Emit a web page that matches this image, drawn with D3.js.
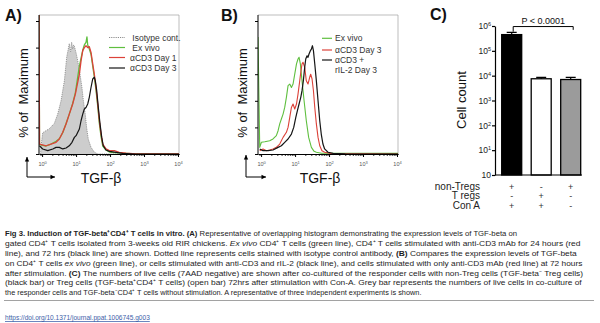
<!DOCTYPE html>
<html>
<head>
<meta charset="utf-8">
<script src="https://cdn.jsdelivr.net/npm/d3@7"></script>
<style>
body { margin: 0; background: #fff; }
svg { display: block; font-family: "Liberation Sans", Arial, Helvetica, sans-serif; }
</style>
</head>
<body>
<svg id="fig" width="600" height="323"></svg>
<script>
// ---- histogram data: [TGF-beta intensity, % of max] ----
const isotypeA = [[0.9,0],[0.93,6],[1.04,16],[1.63,19],[2.29,23],[2.88,30],[3.61,40],[4.52,55],[5.31,73],[5.8,78],[6.31,83],[6.9,77],[7.4,84],[7.94,79],[8.5,82],[8.91,81],[10,76],[11.2,70],[12.5,63],[14.7,51],[16.4,40],[18.6,30],[20.4,20],[22.9,11],[27.5,5],[34.7,1.3],[43.7,0],[10700,0]];
const exVivoA = [[0.81,106],[0.84,7],[1.31,6],[1.83,7.5],[2.57,9.5],[3.21,11.5],[4.05,16],[5.07,23],[6.31,30],[7.94,38],[9.51,46],[11.2,58],[12.5,66],[14,72],[15.7,78],[17.5,82],[19.6,84],[20.9,88],[22,82],[24.5,79],[27.5,75],[30.9,66],[34.4,58],[38.6,48],[43.4,36],[48.4,23],[54.3,13],[61,6],[75.9,3],[95.5,1.5],[134,1],[186,0.8],[295,0.5],[575,0],[10700,0]];
const day1A = [[0.81,106],[0.84,7.5],[1.31,6.2],[1.83,7.5],[2.57,8.8],[3.21,11.3],[4.05,16.3],[5.07,22.6],[6.31,30],[7.94,37.6],[9.51,45],[11.2,54],[12.5,60],[14,70],[15.7,77.7],[17.5,80],[19.6,81.4],[22,80],[24.5,80.7],[27.5,76.4],[30.9,67.7],[34.4,60],[38.6,50],[43.4,37.6],[48.4,25],[54.3,15],[61,7.5],[75.9,3.8],[95.5,2.5],[134,2.5],[186,1.3],[295,0.7],[575,0],[10700,0]];
const day3A = [[0.83,6.2],[1.04,3.8],[1.47,2.5],[2.06,3.8],[2.57,5],[3.21,5],[4.05,3.8],[5.07,4.5],[6.31,6.2],[7.59,8.8],[8.91,12.5],[10,13.8],[11.2,16.3],[12.5,18.8],[14,25],[15.7,30],[17.5,33.8],[19.6,35],[22,37.6],[24.5,42.6],[27.5,50],[30.9,56.4],[34.4,57.7],[36.9,55],[40.5,47.6],[45.2,35],[50.7,22.6],[56.9,12.5],[63.1,6.2],[75.9,3],[95.5,2],[234,0.5],[575,0],[10700,0]];

const exVivoB = [[0.81,88],[0.91,5],[1.02,8.8],[1.28,9.2],[1.79,10],[2.24,11.3],[2.81,13.8],[3.16,17.5],[3.53,22.6],[3.95,26.3],[4.43,30],[4.95,35],[5.55,42.6],[6.21,51.4],[6.97,52.6],[7.8,50],[8.71,52.6],[9.77,60],[11,67.7],[12.2,71.4],[13.1,72.7],[14.3,67.7],[16,55],[18.4,40],[21.4,25],[25.1,12.5],[30.2,5],[36.3,2],[42.3,1.3],[60,0.6],[10700,0.5]];
const day3B = [[0.91,2.5],[1.14,3.8],[1.43,2.5],[1.79,3],[2.24,3.8],[2.81,5],[3.53,7.5],[4.43,12.5],[5.55,16.3],[6.21,20],[6.97,27.6],[7.8,35],[8.71,37.6],[9.77,33.8],[11,37.6],[12.2,45],[13.7,55],[14.7,61.4],[16,67.7],[17.1,69],[19.2,65.2],[21.4,55],[24,52.6],[26.9,57.7],[28.8,60],[31.6,56.4],[34.7,47.6],[38,35],[42.3,22.6],[47.4,12.5],[53.2,6.2],[61.7,2.5],[74.1,1.3],[120,0.3],[10700,0]];
const il2B = [[0.91,3.8],[1.14,2.5],[1.6,2.5],[2.24,3],[3.16,5],[3.95,6.2],[4.95,8.8],[6.21,11.3],[7.8,15],[9.12,20],[10.5,27.6],[11.7,32.6],[13.1,37.6],[14.7,42.6],[16,47.6],[17.5,55],[19.2,65.2],[20.6,71.4],[22.5,73.8],[24,72.7],[25.7,75.2],[28.2,77.7],[30.2,78.9],[32.4,81.4],[34.7,77.7],[38,67.7],[42.3,55],[47.4,40],[53.2,25],[58.9,15],[66.1,7.5],[74.1,3.8],[93.3,1.3],[132,0.5],[300,0.2],[10700,0]];

const pctTicks = [0, 20, 40, 60, 80, 100];
const decadeTicks = [1, 10, 100, 1000, 10000];
const decadeExp = ["0", "1", "2", "3", "4"];

// ---- panel C data ----
const barGroups = ["nonTreg", "Treg", "unstim"];
const cellCounts = [450000, 7500, 7000];
const cellErrors = [100000, 1000, 1500];
const barFills = ["#000", "#fff", "#9b9b9b"];
const cellTicks = [1, 10, 100, 1000, 10000, 100000, 1000000];
const cellTickExp = ["", "1", "2", "3", "4", "5", "6"];
const rowNames = ["non-Tregs", "T regs", "Con A"];
const rowSigns = [["+", "-", "+"], ["-", "+", "-"], ["+", "+", "-"]];
const pLabel = "P < 0.0001";

// ---- caption ----
const captionLines = [
  [["Fig 3. Induction of TGF-beta\u207aCD4\u207a T cells in vitro. ", "b"], ["(A)", "b"], [" Representative of overlapping histogram demonstrating the expression levels of TGF-beta on", ""]],
  [["gated CD4\u207a T cells isolated from 3-weeks old RIR chickens. ", ""], ["Ex vivo", "i"], [" CD4\u207a T cells (green line), CD4\u207a T cells stimulated with anti-CD3 mAb for 24 hours (red", ""]],
  [["line), and 72 hrs (black line) are shown. Dotted line represents cells stained with isotype control antibody, ", ""], ["(B)", "b"], [" Compares the expression levels of TGF-beta", ""]],
  [["on CD4\u207a T cells ", ""], ["ex vivo", "i"], [" (green line), or cells stimulated with anti-CD3 and rIL-2 (black line), and cells stimulated with only anti-CD3 mAb (red line) at 72 hours", ""]],
  [["after stimulation. ", ""], ["(C)", "b"], [" The numbers of live cells (7AAD negative) are shown after co-cultured of the responder cells with non-Treg cells (TGF-beta\u207b Treg cells)", ""]],
  [["(black bar) or Treg cells (TGF-beta\u207aCD4\u207a T cells) (open bar) 72hrs after stimulation with Con-A. Grey bar represents the numbers of live cells in co-culture of", ""]],
  [["the responder cells and TGF-beta\u207bCD4\u207a T cells without stimulation. A representative of three independent experiments is shown.", ""]]
];
const captionWidths = [513, 577, 573, 578, 579, 578, 417];
const doiText = "https://doi.org/10.1371/journal.ppat.1006745.g003";

const svg = d3.select("#fig");

function arrow(g, x0, y0, x1, y1) {
    g.append("line").attr("x1", x0).attr("y1", y0).attr("x2", x1).attr("y2", y1)
        .attr("stroke", "#000").attr("stroke-width", 1);
    const a = Math.atan2(y1 - y0, x1 - x0);
    const L = 4.5, W = 2.2;
    const p = [[x1, y1],
        [x1 - L * Math.cos(a) + W * Math.sin(a), y1 - L * Math.sin(a) - W * Math.cos(a)],
        [x1 - L * Math.cos(a) - W * Math.sin(a), y1 - L * Math.sin(a) + W * Math.cos(a)]];
    g.append("path").attr("d", "M" + p.join("L") + "Z").attr("fill", "#000");
}

// squeeze a text horizontally so it spans exactly `width` px
function fitWidth(sel, x, y, width) {
    const w = sel.node().getComputedTextLength();
    sel.attr("transform", `translate(${x},${y}) scale(${width / w},1)`);
}

function histPanel(opt) {
    const g = svg.append("g").attr("transform", `translate(${opt.dx},0)`);
    const x = d3.scaleLog().domain([0.81, 10700]).range([39, 179]);
    const y = d3.scaleLinear().domain([0, 100]).range([154, 21]);
    const top = 15;

    g.append("clipPath").attr("id", "clip" + opt.name)
        .append("rect").attr("x", 39).attr("y", top).attr("width", 140).attr("height", 154 - top);

    // light frame on top and right
    g.append("path").attr("d", `M39,${top}H179V154`)
        .attr("fill", "none").attr("stroke", "#a0a0a0").attr("stroke-width", 0.7);

    const plot = g.append("g").attr("clip-path", `url(#clip${opt.name})`);
    const line = d3.line().x(d => x(d[0])).y(d => y(d[1]));
    const area = d3.area().x(d => x(d[0])).y0(y(0)).y1(d => y(d[1]));

    opt.series.forEach(s => {
        if (s.fill) {
            plot.append("path").datum(s.data).attr("d", area).attr("fill", s.fill);
        }
        plot.append("path").datum(s.data).attr("d", line)
            .attr("fill", "none").attr("stroke", s.color)
            .attr("stroke-width", s.width).attr("stroke-dasharray", s.dash || null)
            .attr("stroke-linejoin", "round");
    });

    // y axis
    const ya = g.append("g").attr("transform", "translate(39,0)")
        .call(d3.axisLeft(y).tickValues(pctTicks).tickSize(3).tickSizeOuter(0).tickFormat(""));
    ya.select(".domain").attr("d", `M0,${top}V154`);
    ya.selectAll("line, path").attr("stroke", "#000").attr("stroke-width", 1);

    // x axis: minor ticks then decades
    const minor = x.ticks().filter(v => decadeTicks.indexOf(v) < 0);
    const xm = g.append("g").attr("transform", "translate(0,154)")
        .call(d3.axisBottom(x).tickValues(minor).tickSize(2).tickSizeOuter(0).tickFormat(""));
    xm.selectAll("line, path").attr("stroke", "#000").attr("stroke-width", 0.8);
    const xa = g.append("g").attr("transform", "translate(0,154)")
        .call(d3.axisBottom(x).tickValues(decadeTicks).tickSize(3).tickSizeOuter(0).tickFormat(""));
    xa.selectAll("line, path").attr("stroke", "#000").attr("stroke-width", 1);
    xa.selectAll(".tick text").each(function (d, i) {
        const t = d3.select(this);
        t.attr("y", 12).attr("dy", null).attr("font-size", 5.5).attr("fill", "#555")
            .attr("font-family", null);
        t.append("tspan").text("10");
        t.append("tspan").attr("dy", -2.5).attr("font-size", 4).text(decadeExp[i]);
    });

    // titles
    g.append("text").attr("transform", "translate(27.5,93) rotate(-90)")
        .attr("text-anchor", "middle").attr("font-size", 13).attr("fill", "#111")
        .style("white-space", "pre").text("% of  Maximum");
    g.append("text").attr("x", 101).attr("y", 183).attr("text-anchor", "middle")
        .attr("font-size", 14).attr("fill", "#111").text("TGF-\u03b2");
    g.append("text").attr("x", opt.labelX).attr("y", 21).attr("font-size", 16)
        .attr("font-weight", "bold").attr("fill", "#111").text(opt.label);

    arrow(g, 27, 177, 27, opt.arrowTop);
    arrow(g, 27, 177, opt.arrowRight, 177);

    // legend
    const lg = g.append("g");
    opt.legend.forEach(it => {
        if (it.color) {
            lg.append("line").attr("x1", opt.legX0).attr("x2", opt.legX1)
                .attr("y1", it.y).attr("y2", it.y)
                .attr("stroke", it.color).attr("stroke-width", it.width || 1.2)
                .attr("stroke-dasharray", it.dash || null);
        }
        lg.append("text").attr("x", opt.legText).attr("y", it.y + 3)
            .attr("font-size", 8.5).attr("fill", "#333").style("white-space", "pre").text(it.text);
    });
}

const GREEN = "#5fbf3f", RED = "#dc4239", BLACK = "#151515";

histPanel({
    name: "A", dx: 0, label: "A)", labelX: 5, arrowTop: 157, arrowRight: 55,
    series: [
        {data: isotypeA, color: "#8d8d8d", width: 0.9, dash: "1.2,1", fill: "#cdcdcd"},
        {data: exVivoA, color: GREEN, width: 1.3},
        {data: day1A, color: RED, width: 1.3},
        {data: day3A, color: BLACK, width: 1.2}
    ],
    legX0: 109, legX1: 125, legText: 130,
    legend: [
        {text: " Isotype cont.", color: "#8d8d8d", dash: "1.2,1", width: 1, y: 37.5},
        {text: " Ex vivo", color: GREEN, y: 47.5},
        {text: "\u03b1CD3 Day 1", color: RED, y: 57.5},
        {text: "\u03b1CD3 Day 3", color: BLACK, y: 68}
    ]
});

histPanel({
    name: "B", dx: 219, label: "B)", labelX: 2, arrowTop: 155, arrowRight: 47,
    series: [
        {data: exVivoB, color: GREEN, width: 1.1},
        {data: day3B, color: RED, width: 1.1},
        {data: il2B, color: BLACK, width: 1.2}
    ],
    legX0: 103, legX1: 113, legText: 116,
    legend: [
        {text: "Ex vivo", color: GREEN, y: 38.3},
        {text: "\u03b1CD3 Day 3", color: RED, y: 50},
        {text: "\u03b1CD3 +", color: BLACK, y: 60},
        {text: "rIL-2 Day 3", y: 70}
    ]
});

// ---- panel C ----
const gC = svg.append("g");
const yC = d3.scaleLog().domain([1, 1e6]).range([175, 26]);
const xC = d3.scalePoint().domain(barGroups).range([511.7, 570.7]);
const barW = 20;

gC.append("text").attr("x", 430).attr("y", 20).attr("font-size", 16)
    .attr("font-weight", "bold").attr("fill", "#111").text("C)");

gC.selectAll(".bar").data(barGroups).enter().append("rect")
    .attr("x", d => xC(d) - barW / 2).attr("width", barW)
    .attr("y", (d, i) => yC(cellCounts[i]))
    .attr("height", (d, i) => yC(1) - yC(cellCounts[i]))
    .attr("fill", (d, i) => barFills[i]).attr("stroke", "#000").attr("stroke-width", 1.3);

gC.selectAll(".err").data(barGroups).enter().append("path")
    .attr("d", (d, i) => {
        const cx = xC(d), y0 = yC(cellCounts[i]), y1 = yC(cellCounts[i] + cellErrors[i]);
        return `M${cx},${y0}V${y1}M${cx - 5},${y1}H${cx + 5}`;
    })
    .attr("fill", "none").attr("stroke", "#000").attr("stroke-width", 1.2);

const yaC = gC.append("g").attr("transform", "translate(495,0)")
    .call(d3.axisLeft(yC).tickValues(cellTicks).tickSize(3).tickSizeOuter(0).tickFormat(""));
yaC.selectAll("line, path").attr("stroke", "#000").attr("stroke-width", 1.2);
yaC.selectAll(".tick text").each(function (d, i) {
    const t = d3.select(this);
    t.attr("font-size", 8.5).attr("fill", "#222").attr("font-family", null).attr("x", -4);
    t.append("tspan").text("10");
    if (cellTickExp[i]) t.append("tspan").attr("dy", -3).attr("font-size", 5.5).text(cellTickExp[i]);
});
gC.append("line").attr("x1", 495).attr("x2", 582).attr("y1", 175).attr("y2", 175)
    .attr("stroke", "#000").attr("stroke-width", 1.2);

gC.append("text").attr("transform", "translate(466,100) rotate(-90)")
    .attr("text-anchor", "middle").attr("font-size", 13).attr("fill", "#111").text("Cell count");

// significance bracket
const bx0 = xC(barGroups[0]) + 1.5, bx1 = xC(barGroups[2]) + 2.5, byTop = yC(950000);
gC.append("path")
    .attr("d", `M${bx0},${yC(590000)}V${byTop}H${bx1}V${yC(700000)}`)
    .attr("fill", "none").attr("stroke", "#000").attr("stroke-width", 1);
gC.append("text").attr("x", (bx0 + bx1) / 2).attr("y", byTop - 2.5)
    .attr("text-anchor", "middle").attr("font-size", 9).attr("fill", "#111").text(pLabel);

// condition table
const rowY = [189.5, 199, 208.5];
rowNames.forEach((name, r) => {
    gC.append("text").attr("x", 480).attr("y", rowY[r]).attr("text-anchor", "end")
        .attr("font-size", 10).attr("fill", "#222").text(name);
    barGroups.forEach((grp, c) => {
        gC.append("text").attr("x", xC(grp)).attr("y", rowY[r]).attr("text-anchor", "middle")
            .attr("font-size", 9).attr("fill", "#333").text(rowSigns[r][c]);
    });
});

// ---- caption ----
const cap = svg.append("g").attr("font-size", 8).attr("fill", "#1d1d1d");
captionLines.forEach((segs, i) => {
    const t = cap.append("text").style("white-space", "pre");
    segs.forEach(s => {
        t.append("tspan").text(s[0])
            .attr("font-weight", s[1] === "b" ? "bold" : null)
            .attr("font-style", s[1] === "i" ? "italic" : null);
    });
    fitWidth(t, 5, 236.3 + i * 9.8, captionWidths[i]);
});
svg.append("line").attr("x1", 4).attr("x2", 594).attr("y1", 300.5).attr("y2", 300.5)
    .attr("stroke", "#8a8a8a").attr("stroke-width", 0.8);
const doi = svg.append("text").attr("font-size", 7.5)
    .attr("fill", "#3b5ea8").attr("text-decoration", "underline").text(doiText);
fitWidth(doi, 5, 320, 145);
</script>
</body>
</html>
